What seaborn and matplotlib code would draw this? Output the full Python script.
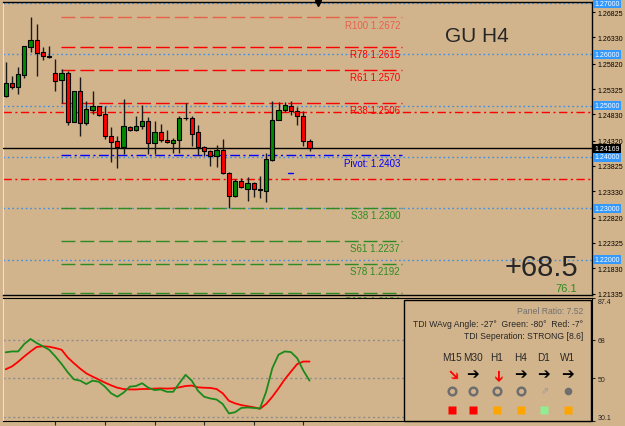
import numpy as np
import pandas as pd
import matplotlib
matplotlib.use('Agg')
import matplotlib.pyplot as plt
from matplotlib.patches import Rectangle
import seaborn as sns

# GBPUSD H4 candles
opens = [1.25196, 1.25443, 1.25371, 1.25598, 1.26151, 1.26281, 1.26040, 1.25962, 1.25637, 1.25501,
         1.25637, 1.24689, 1.25280, 1.24656, 1.24923, 1.24994, 1.24838, 1.24409, 1.24305, 1.24201,
         1.24585, 1.24533, 1.24611, 1.24702, 1.24273, 1.24487, 1.24331, 1.24273, 1.24338, 1.24767,
         1.24760, 1.24481, 1.24188, 1.24110, 1.24026, 1.24136, 1.23688, 1.23246, 1.23539, 1.23376,
         1.23487, 1.23363, 1.23344, 1.23942, 1.24721, 1.24916, 1.25001, 1.24890, 1.24793, 1.24305]
highs = [1.25845, 1.25585, 1.25748, 1.26170, 1.26736, 1.26593, 1.26138, 1.26170, 1.25910, 1.25715,
         1.25683, 1.25293, 1.25553, 1.25098, 1.25287, 1.25001, 1.25001, 1.24578, 1.24416, 1.25131,
         1.24611, 1.24806, 1.25014, 1.24773, 1.24708, 1.24643, 1.24533, 1.24370, 1.24806, 1.25053,
         1.24793, 1.24624, 1.24221, 1.24136, 1.24240, 1.24351, 1.23714, 1.23571, 1.23591, 1.23604,
         1.23519, 1.23636, 1.24071, 1.25098, 1.25066, 1.25066, 1.25098, 1.24981, 1.24903, 1.24351]
lows = [1.25163, 1.25326, 1.25228, 1.25533, 1.26040, 1.25572, 1.25897, 1.25923, 1.25293, 1.25053,
        1.24624, 1.24676, 1.24416, 1.24624, 1.24838, 1.24806, 1.24351, 1.23909, 1.23779, 1.24058,
        1.24513, 1.24513, 1.24546, 1.24058, 1.24058, 1.24286, 1.24273, 1.24078, 1.24078, 1.24728,
        1.24208, 1.24039, 1.24026, 1.23831, 1.23799, 1.23669, 1.22999, 1.23214, 1.23389, 1.23149,
        1.23214, 1.23194, 1.23116, 1.23929, 1.24715, 1.24871, 1.24819, 1.24624, 1.24221, 1.24110]
closes = [1.25443, 1.25371, 1.25618, 1.26157, 1.26281, 1.26027, 1.25962, 1.25955, 1.25488, 1.25637,
          1.24689, 1.25280, 1.24663, 1.24936, 1.24988, 1.24825, 1.24409, 1.24286, 1.24201, 1.24598,
          1.24520, 1.24604, 1.24702, 1.24273, 1.24487, 1.24338, 1.24286, 1.24331, 1.24767, 1.24760,
          1.24455, 1.24201, 1.24123, 1.24013, 1.24136, 1.23682, 1.23246, 1.23539, 1.23409, 1.23487,
          1.23376, 1.23370, 1.23961, 1.24721, 1.24916, 1.25020, 1.24903, 1.24793, 1.24318, 1.24169]

# TDI lines
tdi_green = [62.1, 62.5, 62.5, 66.0, 68.3, 66.4, 64.9, 63.3, 60.2, 56.7,
             52.8, 49.5, 48.9, 47.3, 48.9, 48.4, 46.1, 43.0, 41.4, 43.3,
             46.1, 46.4, 47.7, 45.6, 44.5, 44.8, 43.7, 43.7, 47.7, 51.6,
             48.9, 44.2, 41.4, 40.6, 40.1, 38.0, 33.6, 34.2, 36.2, 36.4,
             36.2, 35.9, 43.7, 54.7, 61.0, 62.5, 62.2, 59.4, 53.6, 48.9]
tdi_red = [54.2, 55.5, 57.7, 60.2, 62.5, 64.6, 64.9, 64.7, 64.1, 63.3,
           59.7, 57.0, 54.5, 52.3, 50.8, 49.4, 48.0, 46.7, 45.6, 45.0,
           44.8, 44.8, 45.0, 45.0, 45.2, 45.3, 45.2, 45.3, 45.8, 46.4,
           46.6, 45.8, 45.6, 45.5, 45.0, 43.0, 39.5, 38.3, 37.5, 37.0,
           36.5, 35.8, 38.0, 41.4, 45.3, 49.5, 53.1, 56.6, 57.8, 57.8]

# levels
r_names = ['R100', 'R78', 'R61', 'R38']
r_values = [1.2672, 1.2615, 1.2570, 1.2506]
s_names = ['S38', 'S61', 'S78', 'S100']
s_values = [1.2300, 1.2237, 1.2192, 1.2134]
pivot_value = 1.2403
round_levels = [1.27, 1.26, 1.25, 1.24, 1.23, 1.22]
red_dashdot_levels = [1.2487, 1.2357]
last_price = 1.24169
price_ticks = [1.26825, 1.26330, 1.25820, 1.25325, 1.24830, 1.24320,
               1.23825, 1.23330, 1.22820, 1.22325, 1.21830, 1.21335]
tdi_levels = [68, 50, 32]
tdi_ticks = [87.4, 68, 50, 30.1]
tdi_tick_labels = ['87.4', '68', '50', '30.1']

timeframes = ['M15', 'M30', 'H1', 'H4', 'D1', 'W1']
tf_arrow_rot = [-45, 0, -90, 0, 0, 0]
tf_arrow_colors = ['red', 'black', 'red', 'black', 'black', 'black']
tf_box_colors = ['#ff0000', '#ff0000', '#ffa500', '#ffa500', '#90ee90', '#ffa500']

TAN = '#d2b48c'
sns.set_style('white', {'axes.facecolor': TAN, 'figure.facecolor': TAN})
plt.rcParams['font.family'] = ['Liberation Sans', 'DejaVu Sans']

fig = plt.figure(figsize=(6.25, 4.27), dpi=100)


def frac(x0, y0, x1, y1):
    return [x0 / 625, 1 - y1 / 427, (x1 - x0) / 625, (y1 - y0) / 427]


ax = fig.add_axes(frac(3, 3, 592, 296))
ax2 = fig.add_axes(frac(3, 299, 592, 422))

x = np.arange(len(opens))
df = pd.DataFrame({'x': x, 'open': opens, 'high': highs, 'low': lows, 'close': closes})
up = df['close'] >= df['open']

# --- main price panel ---
for lv in round_levels:
    ax.axhline(lv, color='#3d8fe6', lw=1, ls=(0, (1.2, 2)), zorder=1)
for lv in red_dashdot_levels:
    ax.axhline(lv, color='red', lw=1, ls=(0, (6, 2.5, 1.5, 2.5)), zorder=1)

x0, x1, xl = 8.9, 63.9, 63.6
r_cols = ['#e8604c', 'red', 'red', 'red']
for name, v, c in zip(r_names, r_values, r_cols):
    ax.plot([x0, x1], [v, v], color=c, lw=1, dashes=(10, 3.6), zorder=2)
    ax.annotate(f'{name} {v:.4f}', (xl, v), xytext=(0, -1.5), textcoords='offset points',
                ha='right', va='top', fontsize=7, color=c)
for name, v in zip(s_names, s_values):
    ax.plot([x0, x1], [v, v], color='#2e8b22', lw=1, dashes=(10, 3.6), zorder=2)
    ax.annotate(f'{name} {v:.4f}', (xl, v), xytext=(0, -1.5), textcoords='offset points',
                ha='right', va='top', fontsize=7, color='#2e8b22')
ax.plot([x0, x1], [pivot_value, pivot_value], color='blue', lw=1,
        dashes=(7, 2.5, 1.5, 2.5), zorder=2)
ax.annotate(f'Pivot: {pivot_value:.4f}', (xl, pivot_value), xytext=(0, -1.5),
            textcoords='offset points', ha='right', va='top', fontsize=7, color='blue')
ax.plot([45.6, 46.4], [1.2369, 1.2369], color='blue', lw=1)

ax.axhline(last_price, color='black', lw=1, zorder=3)

ax.vlines(df['x'], df['low'], df['high'], color='#1a1a1a', lw=1, zorder=4)
ax.bar(df['x'], (df['close'] - df['open']).abs(), bottom=df[['open', 'close']].min(axis=1),
       width=0.7, color=np.where(up, '#008a00', '#ff0000'), edgecolor='black', lw=0.8, zorder=5)

ax.set_xlim(-0.44, 94.56)
ax.set_ylim(1.2131, 1.27021)
ax.set_xticks([])
ax.yaxis.tick_right()
ax.set_yticks(price_ticks)
ax.yaxis.set_major_formatter('{x:.5f}')
ax.tick_params(axis='y', labelsize=5, length=2.5, width=0.8, pad=1.5, colors='black', right=True)
for side in ['top', 'right', 'bottom']:
    ax.spines[side].set_color('black')
    ax.spines[side].set_linewidth(1)
ax.spines['left'].set_color('#e8e0d0')

ax.text(0.805, 0.884, 'GU H4', transform=ax.transAxes, fontsize=15, ha='center', va='center')
ax.text(0.976, 0.096, '+68.5', transform=ax.transAxes, fontsize=21, ha='right', va='center')
ax.text(0.975, 0.023, '76.1', transform=ax.transAxes, fontsize=8, ha='right', va='center',
        color='#2e8b22')
ax.plot([50.4], [1.2700], marker='v', color='black', ms=5, clip_on=False)

# --- TDI panel ---
for lv in tdi_levels:
    ax2.axhline(lv, color='#8c8c8c', lw=1, ls=(0, (1.5, 2)), zorder=1)
sns.lineplot(x=x, y=tdi_red, color='red', lw=1.3, ax=ax2, zorder=3)
sns.lineplot(x=x, y=tdi_green, color='#1a8a1a', lw=1.3, ax=ax2, zorder=4)
ax2.set_xlim(-0.44, 94.56)
ax2.set_ylim(30.1, 87.4)
ax2.yaxis.tick_right()
ax2.set_yticks(tdi_ticks)
ax2.set_yticklabels(tdi_tick_labels)
ax2.tick_params(axis='y', labelsize=5, length=2.5, width=0.8, pad=1.5, right=True)
labs = ax2.get_yticklabels()
labs[0].set_va('top')
labs[-1].set_va('bottom')
ax2.set_xticks([8, 16, 24, 32, 40, 48])
ax2.set_xticklabels([])
ax2.tick_params(axis='x', length=3, width=0.8, bottom=True, direction='out')
ax2.set_ylabel('')
for side in ['top', 'right', 'bottom']:
    ax2.spines[side].set_color('black')
ax2.spines['left'].set_color('#e8e0d0')

# --- overlay in pixel coords: axis boxes, info panel ---
ov = fig.add_axes([0, 0, 1, 1])
ov.set_xlim(0, 625)
ov.set_ylim(427, 0)
ov.axis('off')
ov.patch.set_alpha(0)


def px_y(p):
    return 3 + (1.27021 - p) / (1.27021 - 1.2131) * 293


for lv in round_levels:
    ov.text(594, px_y(lv), f'{lv:.5f}', fontsize=5, color='white', ha='left', va='center',
            bbox=dict(boxstyle='square,pad=0.18', fc='#3399ff', ec='none'))
ov.text(594, px_y(last_price), f'{last_price:.5f}', fontsize=5, color='white', ha='left',
        va='center', bbox=dict(boxstyle='square,pad=0.18', fc='black', ec='none'))

ov.add_patch(Rectangle((404, 301), 186.5, 121, fc=TAN, ec='black', lw=1))
ov.text(583, 312, 'Panel Ratio: 7.52', fontsize=6.2, color='#707070', ha='right', va='center')
ov.text(583, 324.5, 'TDI WAvg Angle: -27\u00b0  Green: -80\u00b0  Red: -7\u00b0', fontsize=6.2,
        ha='right', va='center')
ov.text(583, 337, 'TDI Seperation: STRONG [8.6]', fontsize=6.2, ha='right', va='center')
tf_x = [451.7, 472.7, 496.7, 520.7, 544, 567.7]
for i, tf in enumerate(timeframes):
    xx = tf_x[i]
    ov.text(xx, 358, tf, fontsize=7.2, ha='center', va='center')
    ov.text(xx, 375, '\u2794', fontsize=11, ha='center', va='center', rotation=tf_arrow_rot[i],
            rotation_mode='anchor', color=tf_arrow_colors[i], family=['DejaVu Sans'],
            weight='bold')
    if tf == 'D1':
        ov.text(xx, 392, '\u21d7', fontsize=7, ha='center', va='center', color='#9a9a9a',
                family=['DejaVu Sans'])
    elif tf == 'W1':
        ov.plot(xx, 392, 'o', ms=4.5, color='#6e6e6e')
    else:
        ov.plot(xx, 392, 'o', ms=5.5, mfc='none', mec='#6e6e6e', mew=1.8)
    ov.plot(xx, 411, 's', ms=5.5, color=tf_box_colors[i], mec='none')

fig.savefig('out.png', dpi=100, facecolor=TAN)
